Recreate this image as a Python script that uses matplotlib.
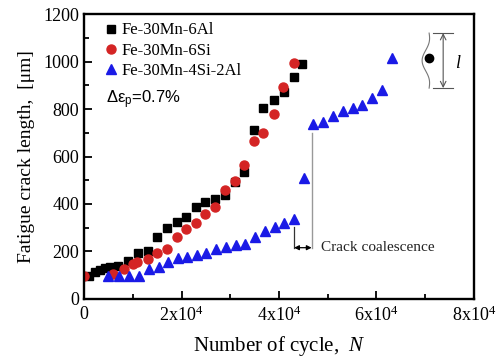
import numpy as np
import matplotlib
matplotlib.use("Agg")
import matplotlib.pyplot as plt
from matplotlib.ticker import MultipleLocator, FixedLocator

# cycles / crack length
n_al = [1000, 2300, 3300, 4300, 5300, 7000, 9000, 11100, 13100, 15000,
        17000, 19100, 20900, 23000, 24800, 26900, 28900, 30900, 32800,
        34800, 36800, 38900, 41000, 43000, 44800]
a_al = [97, 115, 122, 131, 136, 140, 160, 193, 204, 259,
        299, 326, 347, 388, 407, 421, 436, 491, 534,
        710, 804, 839, 872, 933, 990]

n_si = [0, 6000, 8100, 10000, 10900, 13100, 15000, 17000, 19000, 20900,
        23000, 24900, 26900, 28900, 30900, 32800, 34800, 36800, 38900,
        40900, 43000]
a_si = [97, 106, 126, 148, 156, 170, 192, 212, 262, 296,
        318, 358, 389, 460, 498, 566, 665, 699, 779,
        891, 995]

n_sial = [5000, 7200, 9300, 11300, 13300, 15300, 17300, 19200, 21200, 23100,
          25100, 27100, 29100, 31100, 33100, 35100, 37100, 39100, 41100, 43100,
          45100, 47000, 49100, 51000, 53100, 55100, 57100, 59100, 61100, 63100]
a_sial = [97, 97, 97, 97, 125, 136, 157, 172, 178, 184,
          195, 210, 218, 228, 233, 259, 288, 304, 319, 335,
          509, 735, 745, 769, 792, 803, 817, 845, 881, 1016]

labels = ["Fe-30Mn-6Al", "Fe-30Mn-6Si", "Fe-30Mn-4Si-2Al"]
xticks = [0, 20000, 40000, 60000, 80000]
xticklabels = ["0", "2x10$^{\\mathrm{4}}$", "4x10$^{\\mathrm{4}}$",
               "6x10$^{\\mathrm{4}}$", "8x10$^{\\mathrm{4}}$"]

plt.rcParams["font.family"] = "Liberation Serif"
plt.rcParams["mathtext.fontset"] = "custom"
plt.rcParams["mathtext.rm"] = "Liberation Serif"
plt.rcParams["mathtext.it"] = "Liberation Serif:italic"
plt.rcParams["mathtext.sf"] = "Liberation Sans"

fig = plt.figure(figsize=(4.96, 3.64), dpi=100)
ax = fig.add_axes([0.1694, 0.1786, 0.7862, 0.7829])

red = "#d42424"
blue = "#1a1ae6"
ax.plot(n_al, a_al, ls="none", marker="s", ms=5.8, color="black", label=labels[0])
ax.plot(n_si, a_si, ls="none", marker="o", ms=6.5, color=red, label=labels[1])
ax.plot(n_sial, a_sial, ls="none", marker="^", ms=7, color=blue, label=labels[2])

ax.set_xlim(0, 80000)
ax.set_ylim(0, 1200)
ax.xaxis.set_major_locator(FixedLocator(xticks))
ax.set_xticklabels(xticklabels)
ax.xaxis.set_minor_locator(MultipleLocator(10000))
ax.yaxis.set_major_locator(MultipleLocator(200))
ax.yaxis.set_minor_locator(MultipleLocator(100))
ax.tick_params(which="both", direction="in", width=1.3, labelsize=13)
ax.tick_params(which="major", length=6)
ax.tick_params(which="minor", length=3.5)
ax.tick_params(axis="x", pad=5)
for s in ax.spines.values():
    s.set_linewidth(1.7)

ax.set_xlabel("Number of cycle,  $\\mathit{N}$", fontsize=15, labelpad=6)
ax.set_ylabel("Fatigue crack length,  [\u03bcm]", fontsize=14, labelpad=6)

leg = ax.legend(loc="upper left", bbox_to_anchor=(0.035, 1.0), frameon=False,
                prop={"family": "Liberation Serif", "size": 12},
                handlelength=0.6, handletextpad=0.35,
                labelspacing=0.26, borderaxespad=0.1)

ax.text(0.056, 0.698, "\u0394\u03b5$_\\mathsf{p}$=0.7%", transform=ax.transAxes,
        family="Liberation Sans", fontsize=12, va="center", ha="left")

# crack coalescence marker
ax.plot([43100, 43100], [305, 216], color="#333333", lw=0.9)
ax.plot([46700, 46700], [216, 700], color="#999999", lw=1.0)
ax.annotate("", xy=(43100, 216), xytext=(46700, 216),
            arrowprops=dict(arrowstyle="<|-|>", color="black", lw=0.9,
                            mutation_scale=7, shrinkA=0, shrinkB=0))
ax.text(48700, 215, "Crack coalescence", fontsize=11, va="center", ha="left",
        color="#222222")

# schematic of crack length l
tr = ax.transAxes
t = np.linspace(0, 1, 60)
bx = 0.885 - 0.012 * np.sin(np.pi * t) + 0.006 * np.sin(3 * np.pi * t)
by = 0.933 - 0.193 * t
ax.plot(bx, by, color="#777777", lw=0.8, transform=tr)
ax.plot([0.885], [0.845], "o", color="black", ms=6, transform=tr)
ax.annotate("", xy=(0.921, 0.933), xytext=(0.921, 0.740), xycoords=tr,
            arrowprops=dict(arrowstyle="<->", color="#555555", lw=0.8,
                            shrinkA=0, shrinkB=0))
ax.plot([0.895, 0.946], [0.933, 0.933], color="#555555", lw=0.8, transform=tr)
ax.plot([0.895, 0.946], [0.740, 0.740], color="#555555", lw=0.8, transform=tr)
ax.text(0.957, 0.828, "l", style="italic", fontsize=13, transform=tr,
        va="center", ha="center")

fig.savefig("out.png", dpi=100)
